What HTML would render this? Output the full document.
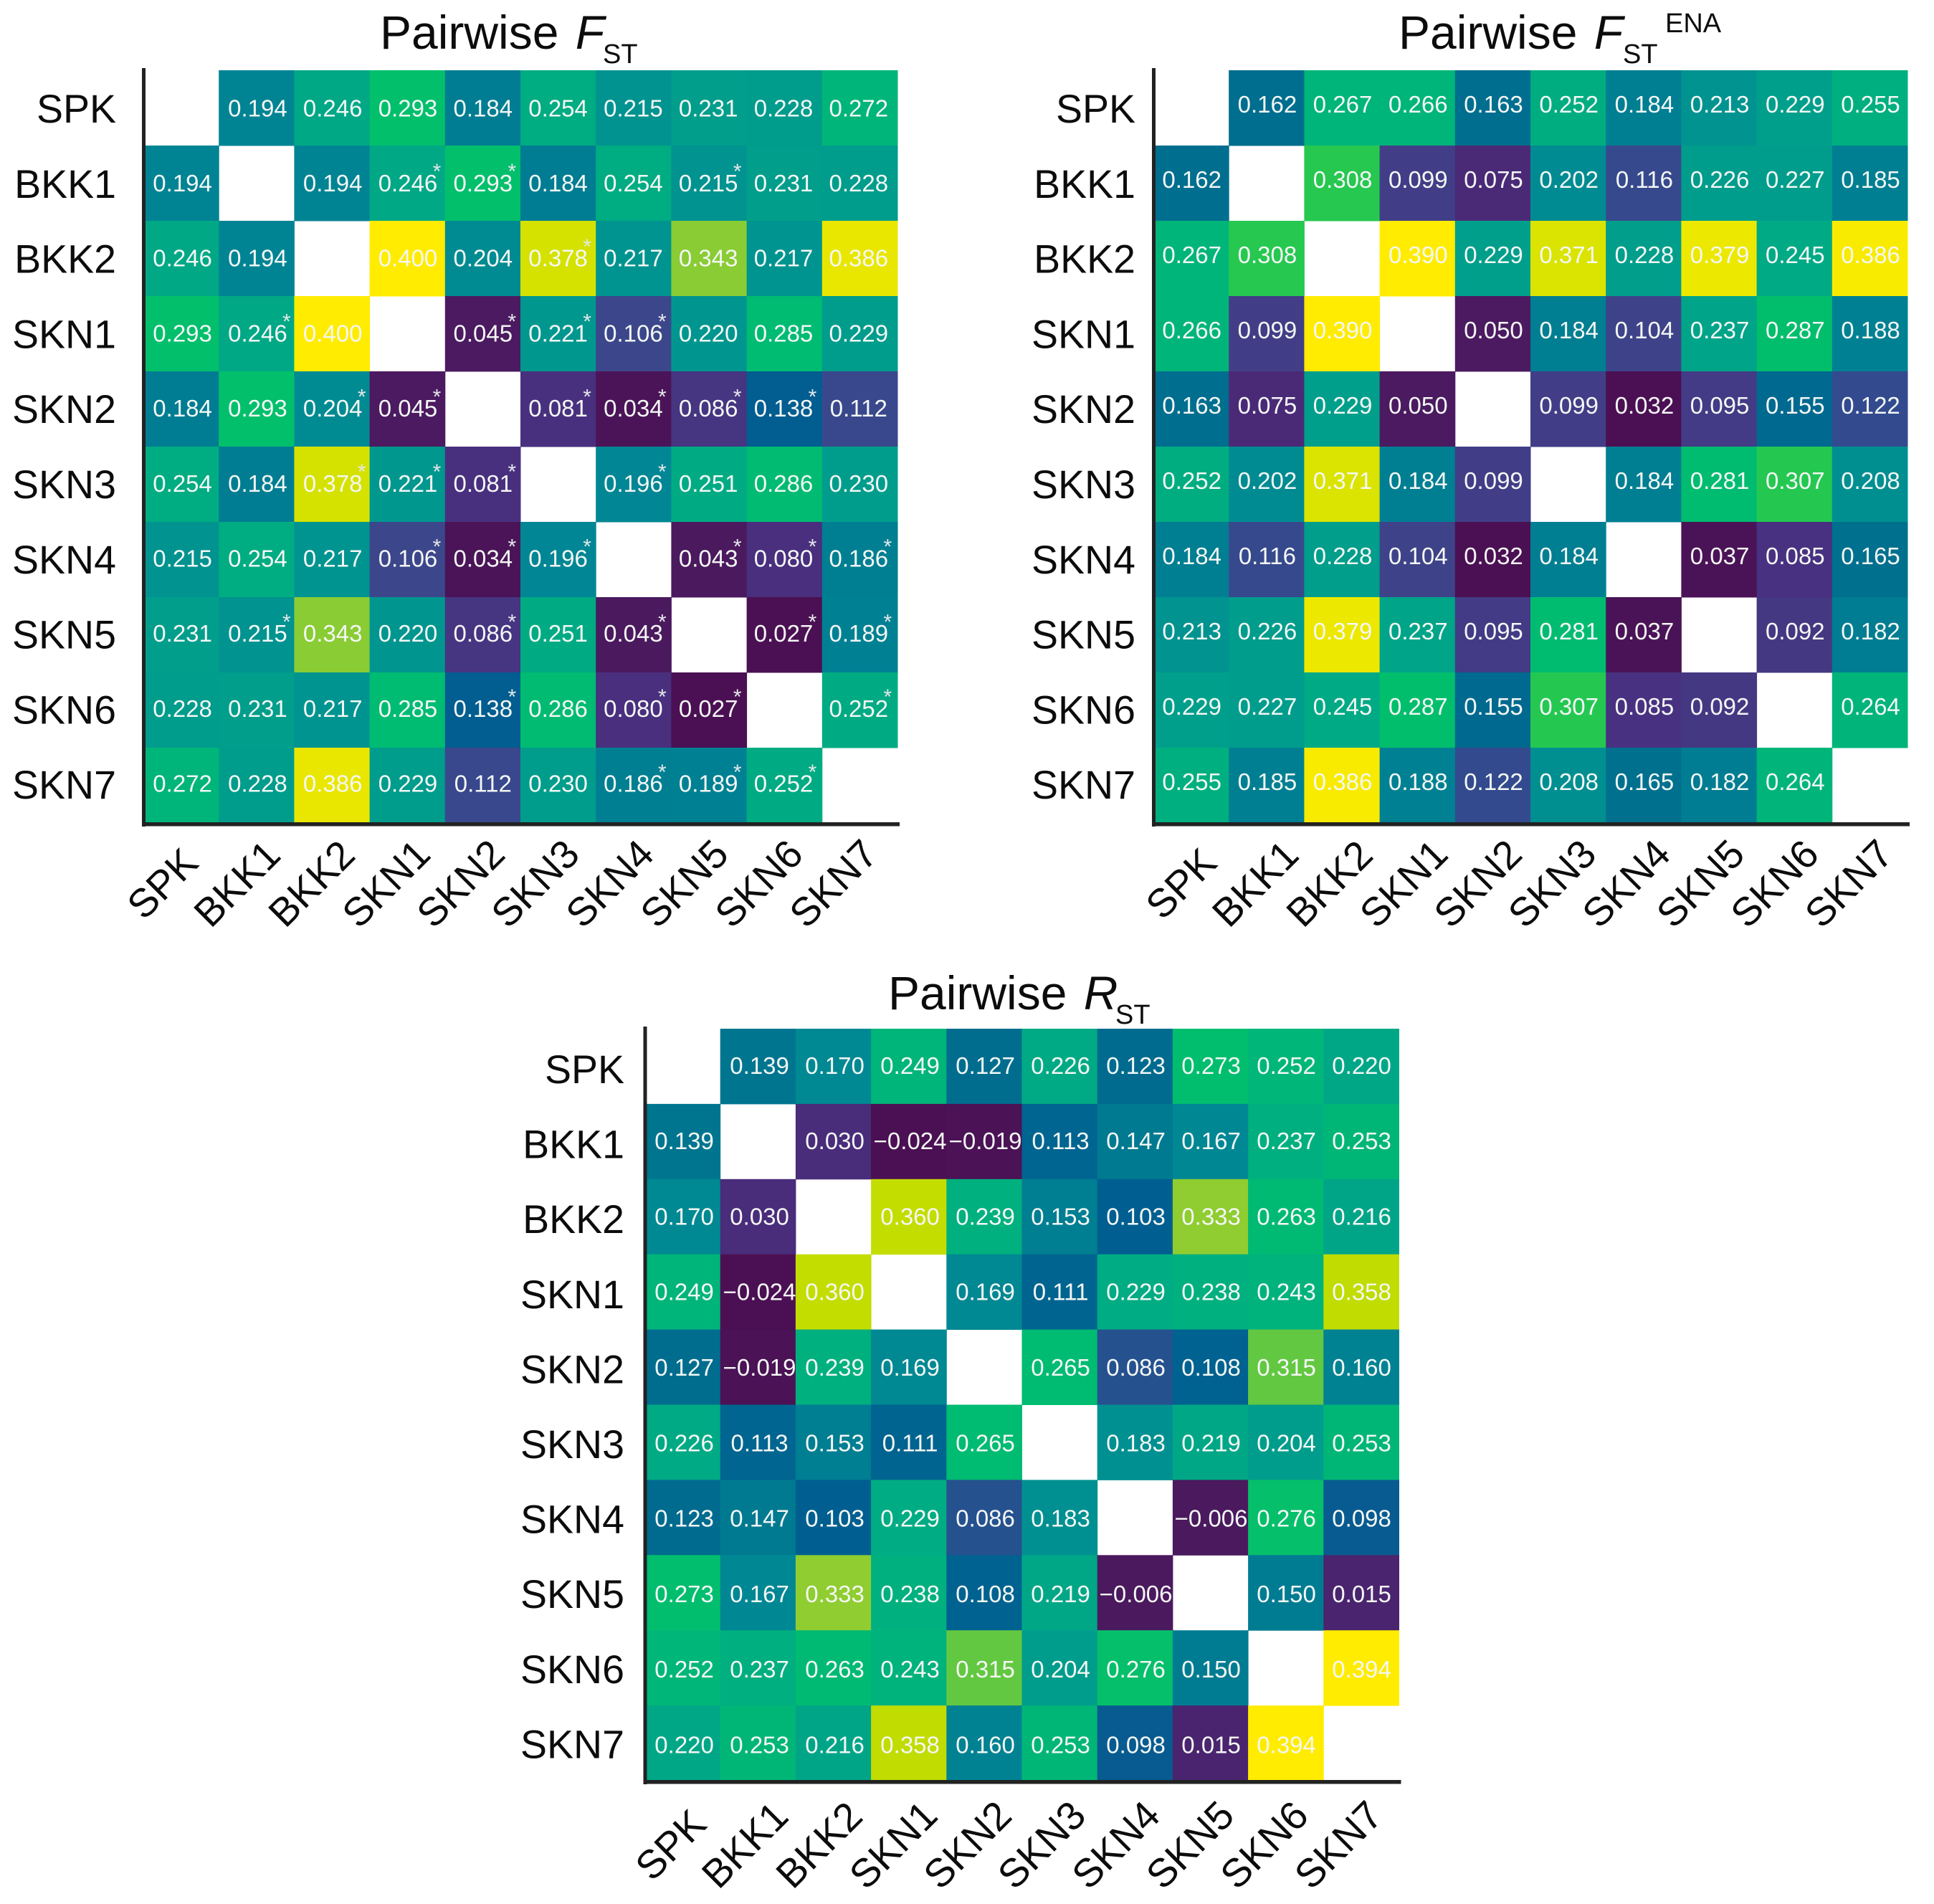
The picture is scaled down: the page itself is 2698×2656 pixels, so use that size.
<!DOCTYPE html>
<html lang="en">
<head>
<meta charset="utf-8">
<title>Pairwise FST, FST ENA and RST heatmaps</title>
<style>
html,body{margin:0;padding:0;background:#fff;}
svg{display:block;font-family:"Liberation Sans",Arial,sans-serif;}
</style>
</head>
<body>
<svg id="chart" xmlns="http://www.w3.org/2000/svg" width="2698" height="2656" viewBox="0 0 2698 2656"></svg>
<script>
const populations = ["SPK","BKK1","BKK2","SKN1","SKN2","SKN3","SKN4","SKN5","SKN6","SKN7"];

const fstValues = [
  [null,0.194,0.246,0.293,0.184,0.254,0.215,0.231,0.228,0.272],
  [0.194,null,0.194,0.246,0.293,0.184,0.254,0.215,0.231,0.228],
  [0.246,0.194,null,0.400,0.204,0.378,0.217,0.343,0.217,0.386],
  [0.293,0.246,0.400,null,0.045,0.221,0.106,0.220,0.285,0.229],
  [0.184,0.293,0.204,0.045,null,0.081,0.034,0.086,0.138,0.112],
  [0.254,0.184,0.378,0.221,0.081,null,0.196,0.251,0.286,0.230],
  [0.215,0.254,0.217,0.106,0.034,0.196,null,0.043,0.080,0.186],
  [0.231,0.215,0.343,0.220,0.086,0.251,0.043,null,0.027,0.189],
  [0.228,0.231,0.217,0.285,0.138,0.286,0.080,0.027,null,0.252],
  [0.272,0.228,0.386,0.229,0.112,0.230,0.186,0.189,0.252,null]
];

const fstSignificant = [
  [],
  [3,4,7],
  [5],
  [1,4,5,6],
  [2,3,5,6,7,8],
  [2,3,4,6],
  [3,4,5,7,8,9],
  [1,4,6,8,9],
  [4,6,7,9],
  [6,7,8]
];

const fstEnaValues = [
  [null,0.162,0.267,0.266,0.163,0.252,0.184,0.213,0.229,0.255],
  [0.162,null,0.308,0.099,0.075,0.202,0.116,0.226,0.227,0.185],
  [0.267,0.308,null,0.390,0.229,0.371,0.228,0.379,0.245,0.386],
  [0.266,0.099,0.390,null,0.050,0.184,0.104,0.237,0.287,0.188],
  [0.163,0.075,0.229,0.050,null,0.099,0.032,0.095,0.155,0.122],
  [0.252,0.202,0.371,0.184,0.099,null,0.184,0.281,0.307,0.208],
  [0.184,0.116,0.228,0.104,0.032,0.184,null,0.037,0.085,0.165],
  [0.213,0.226,0.379,0.237,0.095,0.281,0.037,null,0.092,0.182],
  [0.229,0.227,0.245,0.287,0.155,0.307,0.085,0.092,null,0.264],
  [0.255,0.185,0.386,0.188,0.122,0.208,0.165,0.182,0.264,null]
];

const rstValues = [
  [null,0.139,0.170,0.249,0.127,0.226,0.123,0.273,0.252,0.220],
  [0.139,null,0.030,-0.024,-0.019,0.113,0.147,0.167,0.237,0.253],
  [0.170,0.030,null,0.360,0.239,0.153,0.103,0.333,0.263,0.216],
  [0.249,-0.024,0.360,null,0.169,0.111,0.229,0.238,0.243,0.358],
  [0.127,-0.019,0.239,0.169,null,0.265,0.086,0.108,0.315,0.160],
  [0.226,0.113,0.153,0.111,0.265,null,0.183,0.219,0.204,0.253],
  [0.123,0.147,0.103,0.229,0.086,0.183,null,-0.006,0.276,0.098],
  [0.273,0.167,0.333,0.238,0.108,0.219,-0.006,null,0.150,0.015],
  [0.252,0.237,0.263,0.243,0.315,0.204,0.276,0.150,null,0.394],
  [0.220,0.253,0.216,0.358,0.160,0.253,0.098,0.015,0.394,null]
];

const noSignificant = [[],[],[],[],[],[],[],[],[],[]];

const rampPositions = [0,0.05,0.145,0.212,0.25,0.27,0.30,0.38,0.45,0.51,0.59,0.65,0.71,0.77,0.81,0.85,0.91,0.94,0.965,1];
const rampColors = ["#4b1053","#4b1a60","#49307f","#3c478b","#344a8e","#1f5490","#005e90","#00728f","#008594","#009490","#00a986","#00b47a","#00be6e","#25c850","#62c841","#8ccc33","#bddb00","#d4e200","#ebe800","#ffec00"];

const NS = "http://www.w3.org/2000/svg";
const root = document.getElementById("chart");

function make(tag, parent) {
  const el = document.createElementNS(NS, tag);
  parent.appendChild(el);
  return el;
}
function hexToRgb(h) {
  return [parseInt(h.slice(1,3),16), parseInt(h.slice(3,5),16), parseInt(h.slice(5,7),16)];
}
function colorAt(t) {
  t = Math.max(0, Math.min(1, t));
  let i = 0;
  while (i < rampPositions.length - 2 && t > rampPositions[i + 1]) i++;
  const f = (t - rampPositions[i]) / (rampPositions[i + 1] - rampPositions[i]);
  const a = hexToRgb(rampColors[i]), b = hexToRgb(rampColors[i + 1]);
  return "rgb(" + a.map((v, k) => Math.round(v + (b[k] - v) * f)).join(",") + ")";
}
function formatValue(v) {
  return (v < 0 ? "\u2212" : "") + Math.abs(v).toFixed(3);
}
function drawText(parent, x, y, str, size, anchor, fill) {
  const t = make("text", parent);
  t.setAttribute("x", x);
  t.setAttribute("y", y);
  t.setAttribute("font-size", size);
  t.setAttribute("text-anchor", anchor);
  t.setAttribute("fill", fill);
  t.textContent = str;
  return t;
}

const LABEL_SIZE = 55.5;

function drawPanel(cfg) {
  const g = make("g", root);
  
  

  const n = populations.length;
  const xScale = i => cfg.x0 + i * cfg.cw;
  const yScale = i => cfg.y0 + i * cfg.ch;
  const textX = c => cfg.textX0 + c * cfg.textPitchX;
  const textY = r => cfg.textY0 + r * cfg.textPitchY;
  const flat = cfg.values.flat().filter(v => v !== null);
  const vMin = Math.min(...flat), vMax = Math.max(...flat);
  const colorScale = v => colorAt((v - vMin) / (vMax - vMin));

  for (let r = 0; r < n; r++) {
    for (let c = 0; c < n; c++) {
      const v = cfg.values[r][c];
      if (v === null) continue;
      const cell = make("rect", g);
      
      
      cell.setAttribute("x", xScale(c));
      cell.setAttribute("y", yScale(r));
      cell.setAttribute("width", cfg.cw + 0.5);
      cell.setAttribute("height", cfg.ch + 0.5);
      cell.setAttribute("fill", colorScale(v));
    }
  }
  for (let r = 0; r < n; r++) {
    for (let c = 0; c < n; c++) {
      const v = cfg.values[r][c];
      if (v === null) continue;
      const tx = textX(c), ty = textY(r);
      const label = drawText(g, tx, ty + 11.8, formatValue(v), 33, "middle", "#f4f7f5");
      
      
      if (cfg.significant[r].includes(c)) {
        const star = drawText(g, tx + 40.5, ty - 6, "*", 30, "middle", "#e4e7ea");
        
        
      }
    }
  }

  const axisLeft = make("rect", g);
  
  
  axisLeft.setAttribute("x", cfg.x0 - 2);
  axisLeft.setAttribute("y", cfg.y0 - 3);
  axisLeft.setAttribute("width", 5);
  axisLeft.setAttribute("height", n * cfg.ch + 8);
  axisLeft.setAttribute("fill", "#222222");

  const axisBottom = make("rect", g);
  
  
  axisBottom.setAttribute("x", cfg.x0 - 2);
  axisBottom.setAttribute("y", yScale(n) - 1);
  axisBottom.setAttribute("width", n * cfg.cw + 5);
  axisBottom.setAttribute("height", 5.5);
  axisBottom.setAttribute("fill", "#222222");

  for (let i = 0; i < n; i++) {
    const yl = drawText(g, cfg.yLabelRight, cfg.yLabelBase + i * cfg.yLabelPitch, populations[i], LABEL_SIZE, "end", "#0c0c0c");
    
    

    const px = cfg.xLabelX0 + i * cfg.xLabelPitch, py = cfg.xLabelY;
    const xl = drawText(g, px, py + 0.358 * LABEL_SIZE, populations[i], LABEL_SIZE, "middle", "#0c0c0c");
    xl.setAttribute("transform", "rotate(-45 " + px + " " + py + ")");
    
    
  }

  const title = drawText(g, cfg.titleX, cfg.titleY, "Pairwise ", 66, "start", "#0c0c0c");
  
  
  const titleVar = make("tspan", title);
  titleVar.setAttribute("font-style", "italic");
  titleVar.setAttribute("dx", "5");
  titleVar.textContent = cfg.symbol;

  const sub = drawText(g, cfg.titleX + cfg.subOffset, cfg.titleY + 20, "ST", 38, "start", "#0c0c0c");
  
  

  if (cfg.sup) {
    const sup = drawText(g, cfg.titleX + 372, cfg.titleY - 23, cfg.sup, 38, "start", "#0c0c0c");
    
    
  }
}

drawPanel({name:"fst-heatmap", values:fstValues, significant:fstSignificant, x0:200, y0:98, cw:105.2, ch:105,
  textX0:254.6, textPitchX:104.8, textY0:150.5, textPitchY:104.7,
  yLabelRight:162, yLabelBase:171, yLabelPitch:104.8,
  xLabelX0:226, xLabelPitch:104, xLabelY:1232,
  titleX:530, titleY:68, subOffset:311, symbol:"F", sup:""});
drawPanel({name:"fst-ena-heatmap", values:fstEnaValues, significant:noSignificant, x0:1609, y0:98, cw:105.2, ch:105,
  textX0:1662.7, textPitchX:105.2, textY0:145, textPitchY:105,
  yLabelRight:1584, yLabelBase:171, yLabelPitch:104.8,
  xLabelX0:1647, xLabelPitch:103.5, xLabelY:1232,
  titleX:1951, titleY:68, subOffset:313, symbol:"F", sup:"ENA"});
drawPanel({name:"rst-heatmap", values:rstValues, significant:noSignificant, x0:899.5, y0:1435, cw:105.2, ch:104.9,
  textX0:954.6, textPitchX:105, textY0:1486, textPitchY:105.3,
  yLabelRight:871, yLabelBase:1511, yLabelPitch:104.6,
  xLabelX0:935, xLabelPitch:103.5, xLabelY:2573,
  titleX:1239, titleY:1408, subOffset:317, symbol:"R", sup:""});
</script>
</body>
</html>
